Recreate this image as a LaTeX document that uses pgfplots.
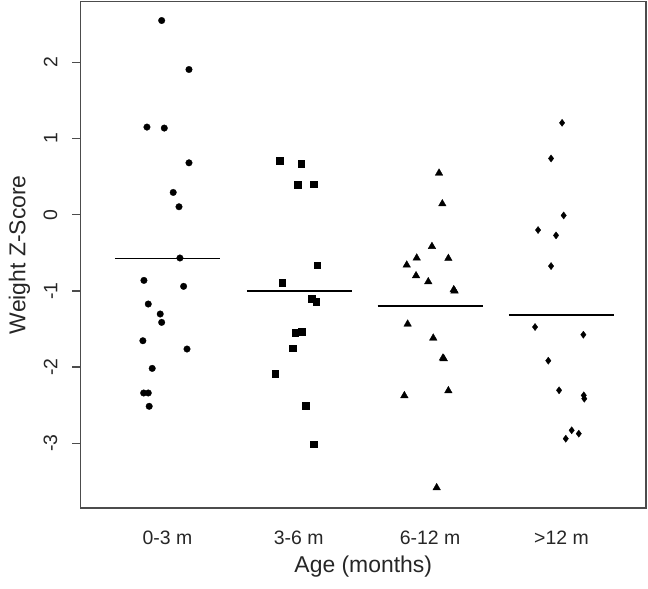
\documentclass[border=0pt]{standalone}
\usepackage{fontspec}
\setmainfont{Liberation Sans}
\usepackage{pgfplots}
\pgfplotsset{compat=1.18}
\begin{document}
\begin{tikzpicture}[x=1bp,y=1bp]
\useasboundingbox (0,0) rectangle (648,589);
\begin{axis}[
  at={(80.5bp,81bp)}, anchor=south west,
  scale only axis, width=565.5bp, height=506.5bp,
  xmin=0.338, xmax=4.644, ymin=-3.85, ymax=2.80,
  xtick={1,2,3,4}, xticklabels={0-3 m,3-6 m,6-12 m,>12 m},
  ytick={-3,-2,-1,0,1,2}, yticklabels={-3,-2,-1,0,1,2},
  axis line style={draw=black!70, line width=1.3bp},
  tick style={draw=black!70, line width=1.2bp},
  x tick style={draw=none},
  tick align=outside, major tick length=8bp,
  ytick pos=left, xtick pos=bottom,
  ticklabel style={font=\fontsize{19.5}{23}\selectfont, text=black!85},
  yticklabel style={rotate=90, anchor=south, inner sep=0pt},
  yticklabel shift=15bp,
  xticklabel style={anchor=north, inner sep=0pt},
  xticklabel shift=15bp,
  xlabel={Age (months)}, ylabel={Weight Z-Score},
  label style={font=\fontsize{23}{27}\selectfont, text=black!85},
  xlabel style={at={(axis description cs:0.5,-0.1158)}, anchor=center},
  ylabel style={at={(axis description cs:-0.108,0.5)}, anchor=center, rotate=0},
  clip=false,
]
\addplot[only marks, mark=*, mark size=3.3bp, mark options={fill=black, draw=black, line width=0.3bp}] coordinates {
(0.956,2.55) (1.164,1.907) (0.844,1.151) (0.976,1.138) (1.164,0.682)
(1.044,0.293) (1.088,0.105) (1.095,-0.568) (0.821,-0.862) (1.123,-0.94)
(0.854,-1.172) (0.945,-1.303) (0.956,-1.413) (0.813,-1.654) (1.149,-1.763)
(0.884,-2.017) (0.819,-2.34) (0.854,-2.34) (0.861,-2.515)
};
\addplot[only marks, mark=square*, mark size=3.3bp, mark options={fill=black, draw=black, line width=0.3bp}] coordinates {
(1.854,0.709) (2.017,0.669) (1.992,0.398) (2.113,0.403) (2.141,-0.66)
(1.874,-0.888) (2.1,-1.102) (2.131,-1.138) (1.973,-1.545) (2.022,-1.535)
(1.954,-1.75) (1.821,-2.087) (2.053,-2.503) (2.113,-3.014)
};
\addplot[only marks, mark=triangle*, mark size=4.4bp, mark options={fill=black, draw=black, line width=0.3bp}] coordinates {
(3.068,0.547) (3.093,0.144) (3.014,-0.416) (2.898,-0.568) (3.139,-0.573)
(2.822,-0.66) (2.893,-0.8) (2.986,-0.879) (3.180,-0.984) (3.186,-1.0)
(2.829,-1.435) (3.024,-1.619) (3.098,-1.881) (3.104,-1.89) (3.139,-2.31)
(2.804,-2.375) (3.050,-3.583)
};
\addplot[only marks, mark=diamond*, mark size=3.6bp, mark options={fill=black, draw=black, line width=0.3bp}] coordinates {
(4.005,1.207) (3.921,0.739) (4.017,-0.009) (3.822,-0.201) (3.959,-0.271)
(3.921,-0.674) (3.799,-1.474) (4.167,-1.575) (3.9,-1.916) (3.982,-2.305)
(4.170,-2.371) (4.174,-2.415) (4.078,-2.83) (4.132,-2.874) (4.033,-2.94)
};
\addplot[black, line width=1.8bp, no marks] coordinates {(0.6,-0.575) (1.4,-0.575)};
\addplot[black, line width=1.8bp, no marks] coordinates {(1.605,-1.0) (2.405,-1.0)};
\addplot[black, line width=1.8bp, no marks] coordinates {(2.6,-1.203) (3.4,-1.203)};
\addplot[black, line width=1.8bp, no marks] coordinates {(3.6,-1.321) (4.4,-1.321)};
\end{axis}
\end{tikzpicture}
\end{document}
